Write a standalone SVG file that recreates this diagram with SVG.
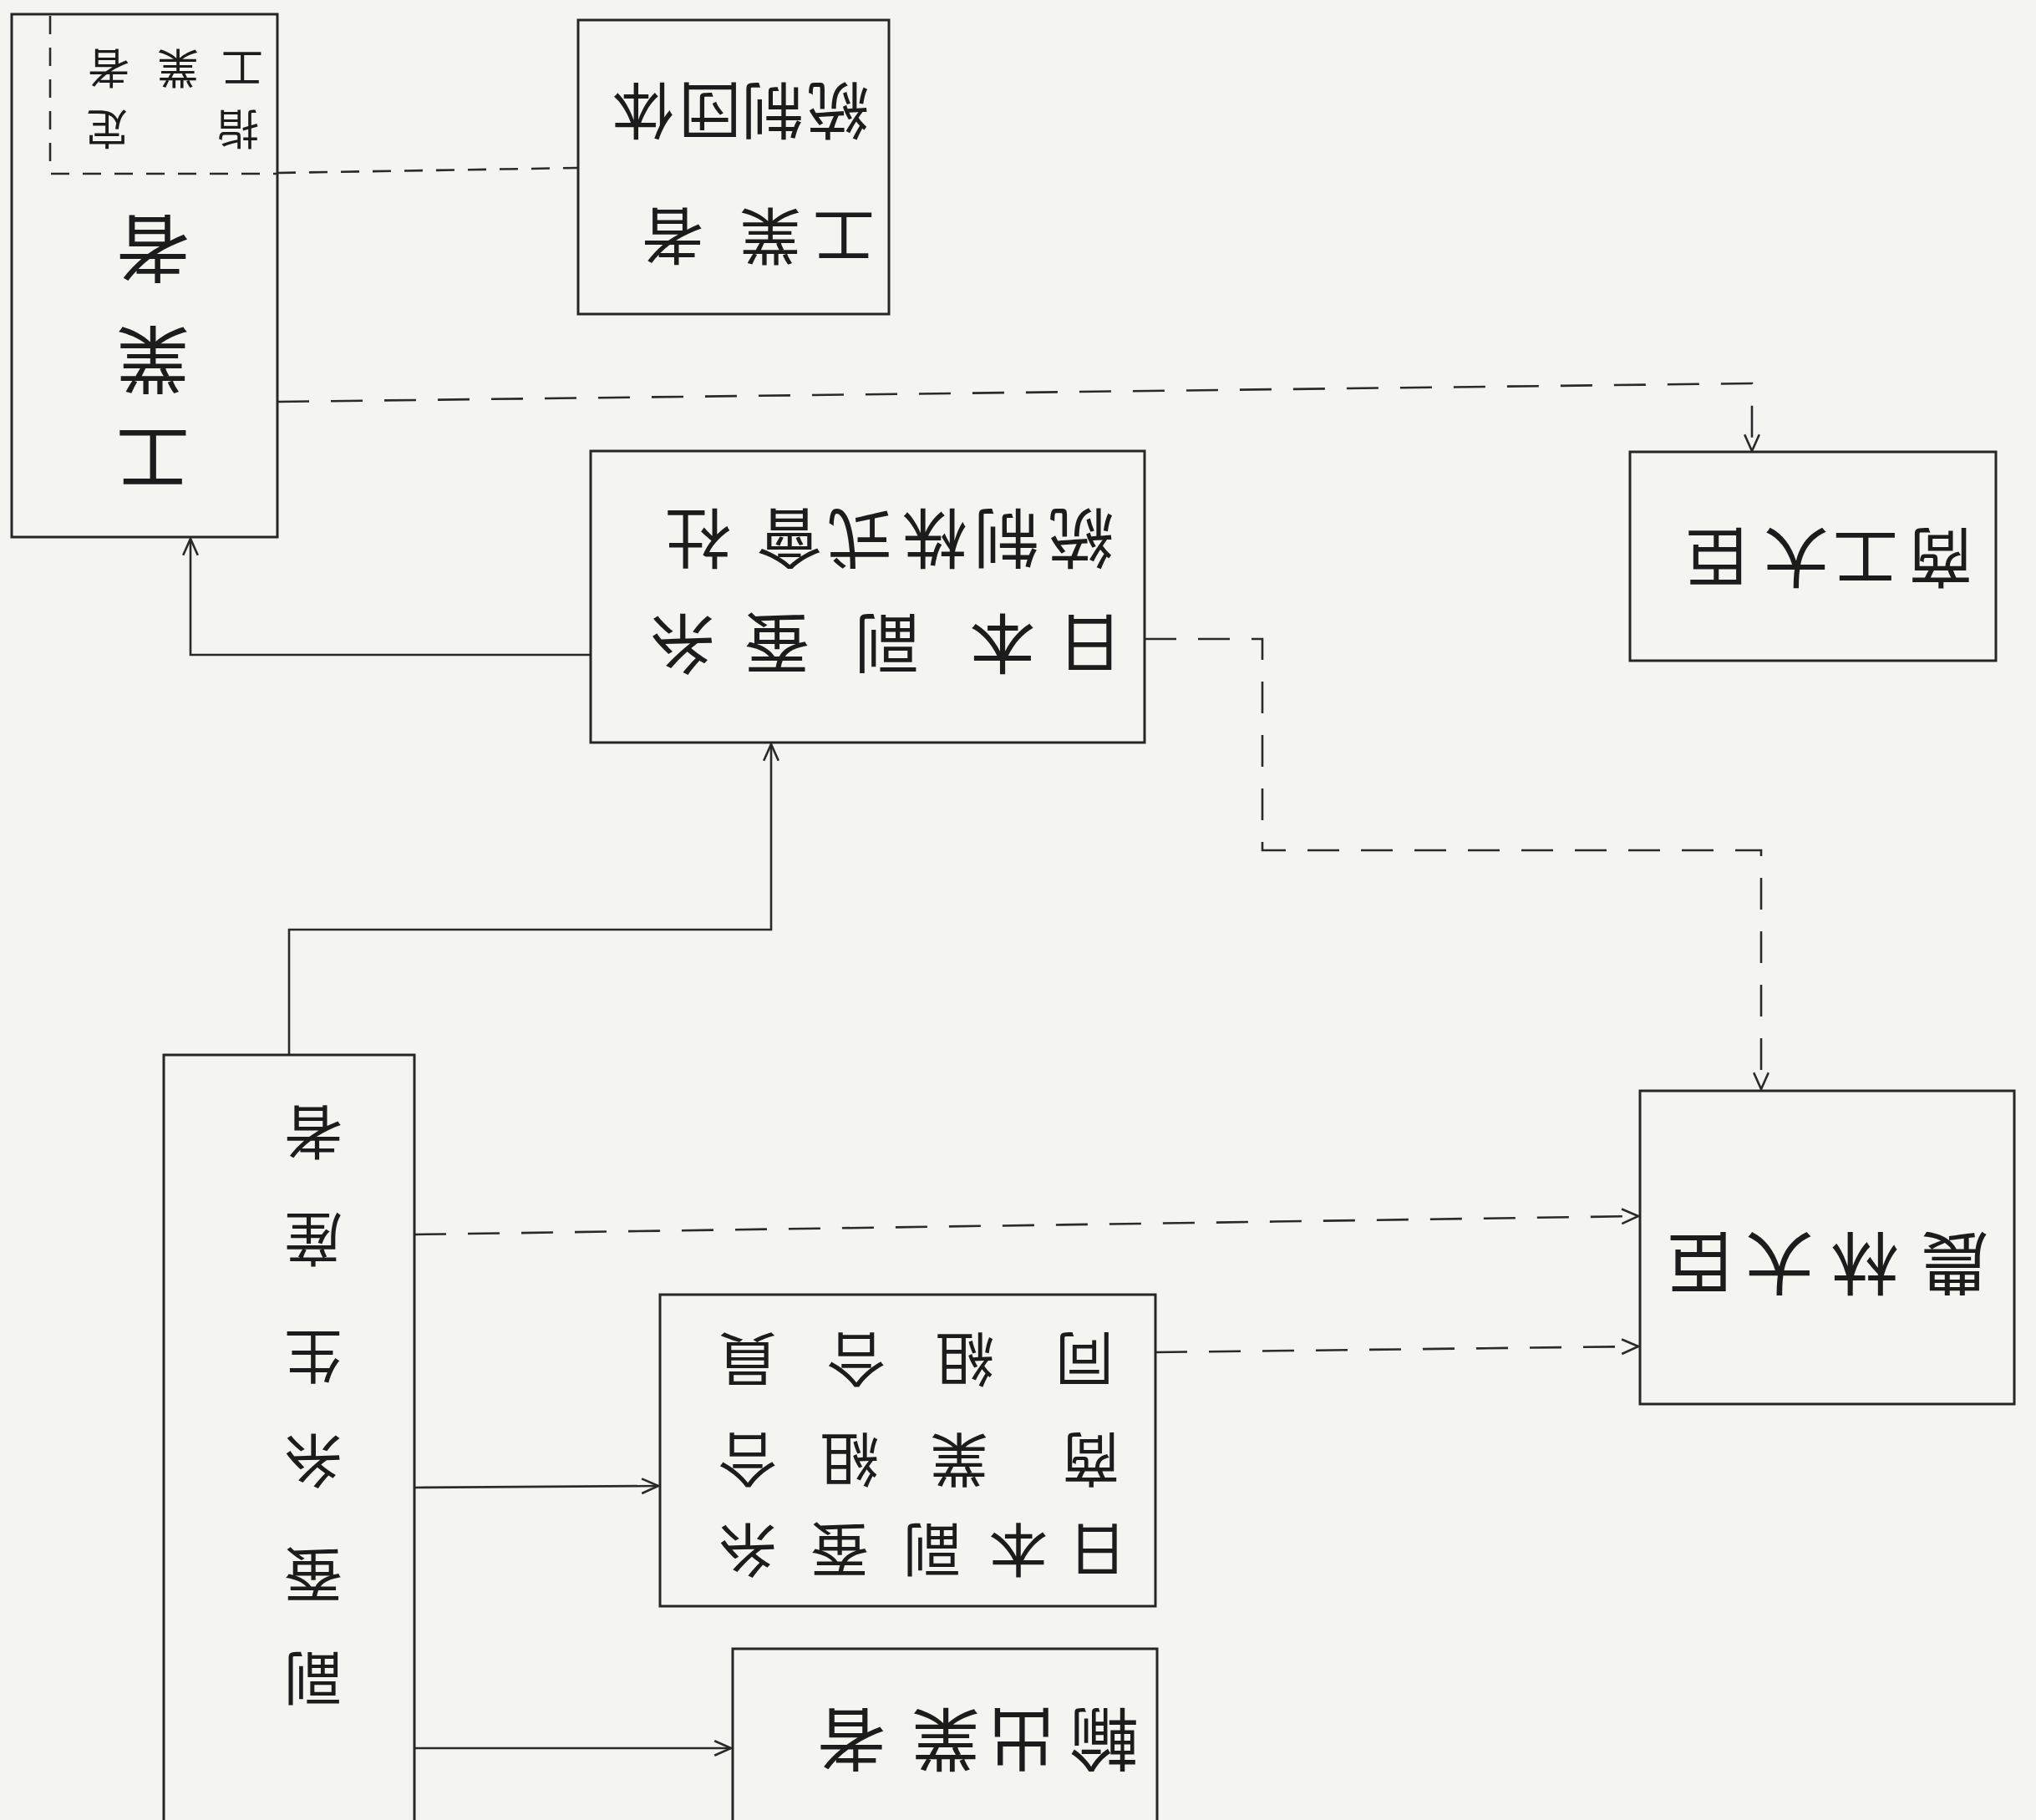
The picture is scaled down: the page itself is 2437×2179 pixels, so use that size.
<svg xmlns="http://www.w3.org/2000/svg" width="2437" height="2179" viewBox="0 0 2437 2179">
<style>
.bg{fill:#f4f4f1}
.box{fill:none;stroke:#262626;stroke-width:3}
.ln{fill:none;stroke:#2a2a2a;stroke-width:2.6}
.dash{stroke-dasharray:38 26}
.dash2{stroke-dasharray:22 16}
.t{font-family:"Liberation Sans","Noto Sans CJK JP",sans-serif;fill:#1c1c1c;text-anchor:middle;dominant-baseline:central}
</style>
<defs>
<marker id="ah" viewBox="0 0 20 20" refX="19" refY="10" markerWidth="22" markerHeight="22" markerUnits="userSpaceOnUse" orient="auto">
<path d="M1,2 L19,10 L1,18" fill="none" stroke="#2a2a2a" stroke-width="2.4"/>
</marker>
</defs>
<rect class="bg" x="0" y="0" width="2437" height="2179"/>

<g id="connectors">
<path class="ln" d="M346,1263 V1113 H923 V891" marker-end="url(#ah)"/>
<path class="ln" d="M707,784 H228 V645" marker-end="url(#ah)"/>
<path class="ln dash" d="M332,481 L2097,459 V540" marker-end="url(#ah)"/>
<path class="ln dash" d="M1370,765 H1511 V1018 H2108 V1304" marker-end="url(#ah)"/>
<path class="ln dash" d="M496,1478 L1961,1456" marker-end="url(#ah)"/>
<path class="ln dash" d="M1383,1619 L1961,1612" marker-end="url(#ah)"/>
<path class="ln" d="M496,1781 L788,1779" marker-end="url(#ah)"/>
<path class="ln" d="M496,2093 L875,2093" marker-end="url(#ah)"/>
<path class="ln dash2" d="M332,207 L692,201"/>
</g>

<g id="n-kogyosha">
<rect class="box" x="14" y="17" width="318" height="626"/>
<path class="ln dash2" d="M60,19 V208 H332"/>
<text class="t" transform="rotate(180)" style="font-size:50px" x="-290 -213 -130" y="-80">工業者</text>
<text class="t" transform="rotate(180)" style="font-size:50px" x="-285 -128" y="-153">指定</text>
<text class="t" transform="rotate(180)" style="font-size:88px" x="-183 -183 -183" y="-546 -428 -295">工業者</text>
</g>

<g id="n-tosei-dantai">
<rect class="box" x="692" y="24" width="372" height="352"/>
<text class="t" transform="rotate(180)" style="font-size:74px" x="-1010 -922 -805" y="-280">工業者</text>
<text class="t" transform="rotate(180)" style="font-size:74px" x="-1003 -925 -850 -770" y="-130">統制団体</text>
</g>

<g id="n-kabushiki">
<rect class="box" x="707" y="540" width="663" height="349"/>
<text class="t" transform="rotate(180)" style="font-size:78px" x="-1305 -1200 -1062 -930 -817" y="-768">日本副蚕糸</text>
<text class="t" transform="rotate(180)" style="font-size:78px" x="-1294 -1205 -1119 -1029 -945 -836" y="-642">統制株式會社</text>
</g>

<g id="n-shoko-daijin">
<rect class="box" x="1951" y="541" width="438" height="250"/>
<text class="t" transform="rotate(180)" style="font-size:78px" x="-2323 -2233 -2150 -2055" y="-665">商工大臣</text>
</g>

<g id="n-norin-daijin">
<rect class="box" x="1963" y="1306" width="448" height="375"/>
<text class="t" transform="rotate(180)" style="font-size:82px" x="-2340 -2232 -2130 -2035" y="-1510">農林大臣</text>
</g>

<g id="n-shogyo-kumiai">
<rect class="box" x="790" y="1550" width="593" height="373"/>
<text class="t" transform="rotate(180)" style="font-size:70px" x="-1314 -1219 -1116 -1005 -895" y="-1853">日本副蚕糸</text>
<text class="t" transform="rotate(180)" style="font-size:70px" x="-1306 -1148 -1017 -895" y="-1745">商業組合</text>
<text class="t" transform="rotate(180)" style="font-size:70px" x="-1298 -1155 -1025 -895" y="-1625">同組合員</text>
</g>

<g id="n-yushutsu">
<rect class="box" x="877" y="1974" width="508" height="240"/>
<text class="t" transform="rotate(180)" style="font-size:82px" x="-1322 -1223 -1132 -1019" y="-2080">輸出業者</text>
</g>

<g id="n-seisansha">
<rect class="box" x="196" y="1263" width="300" height="960"/>
<text class="t" transform="rotate(180)" style="font-size:70px" x="-375 -375 -375 -375 -375 -375" y="-2007 -1883 -1746 -1621 -1481 -1353">副蚕糸生産者</text>
</g>
</svg>
